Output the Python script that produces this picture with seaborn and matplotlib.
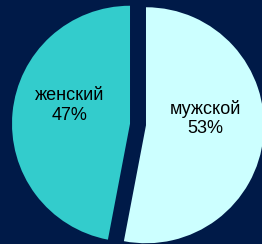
import matplotlib
matplotlib.use("Agg")
import matplotlib.pyplot as plt
import seaborn as sns

genders = ["женский", "мужской"]
shares = [47, 53]
colors = ["#33CCCC", "#CCFFFF"]
label_pos = [(-0.58, 0.16), (0.57, 0.05)]

sns.set_theme(style="white")
plt.rcParams['font.family'] = ['Liberation Sans', 'DejaVu Sans']
bg = "#001a48"

fig = plt.figure(figsize=(2.62, 2.44), dpi=100, facecolor=bg)
ax = fig.add_axes([0, 0, 1, 1])
ax.set_facecolor(bg)

ax.pie(shares, colors=colors, startangle=90, counterclock=True,
       explode=[0.068, 0.068], radius=1,
       wedgeprops=dict(linewidth=0))

for g, s, (x, y) in zip(genders, shares, label_pos):
    ax.text(x, y, f"{g}\n{s}%", ha="center", va="center",
            fontsize=13, color="black", linespacing=1.2)

ax.set_xlim(-138 / 118, 124 / 118)
ax.set_ylim(-119.5 / 118, 124.5 / 118)
ax.set_aspect("auto")
ax.axis("off")

fig.savefig("out.png", dpi=100, facecolor=bg)
